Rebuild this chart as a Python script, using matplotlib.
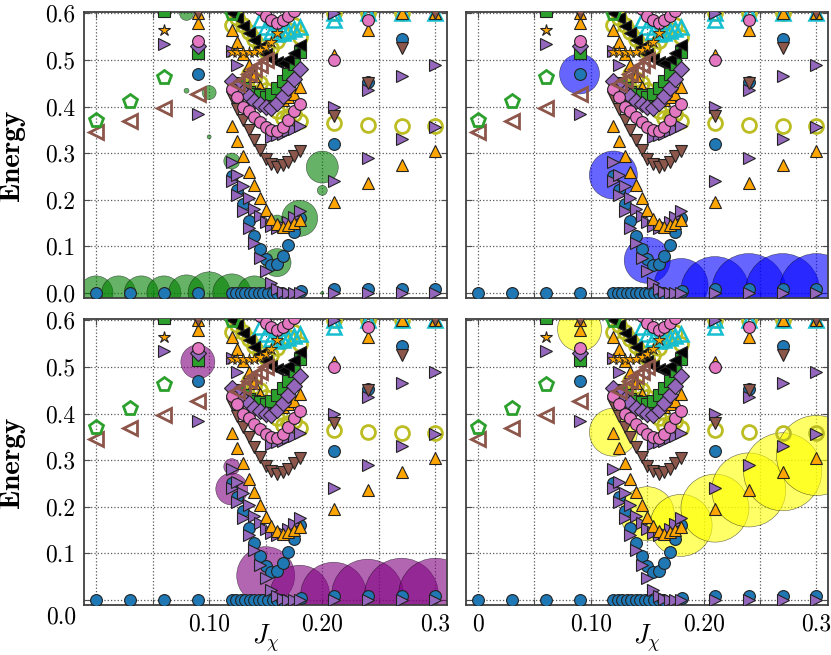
import numpy as np
import matplotlib
matplotlib.use("Agg")
import matplotlib.pyplot as plt

plt.rcParams["mathtext.fontset"] = "cm"
plt.rcParams["axes.unicode_minus"] = False

# dense J grid used by most branches
xd = [0.12, 0.125, 0.13, 0.135, 0.14, 0.145, 0.15, 0.155, 0.16, 0.165, 0.17, 0.175, 0.18]

# blue circles
blue0_x = [0.0, 0.03, 0.06, 0.09, 0.12, 0.124, 0.128, 0.132, 0.136, 0.14, 0.144, 0.148, 0.152, 0.156,
           0.16, 0.164, 0.181, 0.21, 0.24, 0.27, 0.30]
blue0_E = [0.0, 0.0, 0.0, 0.0, 0.0, 0.0, 0.0, 0.0, 0.0, 0.0, 0.0, 0.0, 0.0, 0.0,
           0.0, 0.0, 0.005, 0.009, 0.009, 0.009, 0.008]
blue1_E = [0.25, 0.22, 0.19, 0.155, 0.122, 0.095, 0.072, 0.06, 0.062, 0.079, 0.103, 0.13, 0.16]
blue2_x = [0.09, 0.21, 0.24, 0.27]
blue2_E = [0.47, 0.32, 0.452, 0.545]

# purple right triangles
pur0_x = [0.21, 0.24, 0.27, 0.30]
pur0_E = [0.0, 0.0, 0.0, 0.0]
pur1_E = [0.24, 0.21, 0.175, 0.14, 0.108, 0.075, 0.048, 0.022, 0.008, 0.002, 0.0, 0.0, 0.0]
pur2_E = [0.282, 0.254, 0.229, 0.204, 0.18, 0.165, 0.152, 0.143, 0.14, 0.143, 0.152, 0.163, 0.176]
pur3_x = [0.06, 0.09, 0.21, 0.21, 0.24, 0.24, 0.27, 0.27, 0.30, 0.30, 0.21]
pur3_E = [0.535, 0.385, 0.40, 0.24, 0.435, 0.29, 0.465, 0.33, 0.49, 0.357, 0.6]
pur4_x = [0.12, 0.125, 0.155, 0.16, 0.165, 0.17, 0.175, 0.18]
pur4_E = [0.52, 0.49, 0.335, 0.338, 0.342, 0.348, 0.352, 0.358]

# orange up triangles
org0_x = [0.09, 0.09, 0.21, 0.21, 0.24, 0.24, 0.27, 0.27, 0.30, 0.30]
org0_E = [0.58, 0.6, 0.195, 0.51, 0.235, 0.565, 0.274, 0.6, 0.305, 0.6]
org1_E = [0.358, 0.325, 0.293, 0.26, 0.231, 0.203, 0.177, 0.158, 0.148, 0.142, 0.145, 0.15, 0.157]
org2_E = [0.564, 0.538, 0.512, 0.489, 0.466, 0.443, 0.428, 0.42, 0.415, 0.415, 0.42, 0.428, 0.443]

# brown down triangles
brn0_x = [0.09, 0.21, 0.24, 0.27, 0.30]
brn0_E = [0.6, 0.38, 0.45, 0.525, 0.6]
brn1_E = [0.42, 0.395, 0.372, 0.35, 0.329, 0.307, 0.288, 0.276, 0.271, 0.275, 0.28, 0.293, 0.305]

# pink circles
pnk0_x = [0.09, 0.21, 0.24]
pnk0_E = [0.54, 0.50, 0.585]
pnk1_E = [0.437, 0.42, 0.40, 0.39, 0.378, 0.367, 0.357, 0.35, 0.348, 0.357, 0.372, 0.39, 0.406]
pnk2_x = [0.145, 0.15, 0.155, 0.16, 0.165, 0.17, 0.175]
pnk2_E = [0.61, 0.595, 0.585, 0.58, 0.585, 0.595, 0.605]

# purple diamonds
dia0_x = [0.09]
dia0_E = [0.53]
dia1_E = [0.455, 0.445, 0.432, 0.422, 0.413, 0.405, 0.398, 0.397, 0.408, 0.423, 0.44, 0.46, 0.48]

# green squares
grs0_x = [0.06, 0.09]
grs0_E = [0.605, 0.515]
grs1_x = [0.125, 0.13, 0.135, 0.14, 0.145, 0.15, 0.155, 0.16, 0.165, 0.17, 0.175, 0.18]
grs1_E = [0.45, 0.44, 0.432, 0.428, 0.424, 0.42, 0.427, 0.44, 0.455, 0.47, 0.492, 0.517]

# black left triangles
blk_E = [0.6, 0.59, 0.572, 0.557, 0.543, 0.527, 0.513, 0.502, 0.495, 0.493, 0.502, 0.516, 0.532]

# olive open circles
olv0_x = [0.21, 0.21, 0.24, 0.24, 0.27, 0.27, 0.30]
olv0_E = [0.365, 0.6, 0.36, 0.6, 0.358, 0.6, 0.358]
olv1_E = [0.575, 0.59, 0.575, 0.56, 0.545, 0.53, 0.52, 0.525, 0.54, 0.555, 0.565, 0.575, 0.55]
olv2_x = [0.135, 0.14, 0.145, 0.15, 0.155, 0.16, 0.165, 0.17, 0.175, 0.18]
olv2_E = [0.47, 0.46, 0.45, 0.435, 0.415, 0.39, 0.375, 0.38, 0.385, 0.37]

# cyan open triangles
cyn0_x = [0.21, 0.21, 0.24, 0.27, 0.30]
cyn0_E = [0.585, 0.6, 0.6, 0.6, 0.6]
cyn1_x = [0.145, 0.15, 0.155, 0.16, 0.165, 0.17, 0.175, 0.18]
cyn1_E = [0.585, 0.57, 0.56, 0.555, 0.558, 0.562, 0.566, 0.57]

# orange stars
star0_x = [0.06]
star0_E = [0.565]
star1_x = [0.12, 0.125, 0.13, 0.135, 0.14, 0.145, 0.15, 0.155, 0.16]
star1_E = [0.518, 0.518, 0.518, 0.518, 0.518, 0.522, 0.528, 0.539, 0.557]

# brown open left triangles
bho_x = [0.0, 0.03, 0.06, 0.09, 0.125, 0.13, 0.135, 0.14, 0.145, 0.15]
bho_E = [0.345, 0.368, 0.397, 0.427, 0.448, 0.458, 0.47, 0.48, 0.49, 0.50]

# green open pentagons
pen_x = [0.0, 0.03, 0.06, 0.12]
pen_E = [0.372, 0.412, 0.463, 0.6]

# weight bubbles, one set per panel (radius in pixels)
wg_x = [0.0, 0.02, 0.04, 0.06, 0.08, 0.10, 0.12, 0.14, 0.16, 0.16, 0.18, 0.20, 0.20, 0.20, 0.12, 0.10, 0.08, 0.10, 0.08]
wg_E = [0.0, 0.0, 0.0, 0.0, 0.0, 0.0, 0.0, 0.0, 0.065, 0.15, 0.16, 0.27, 0.22, 0.0, 0.283, 0.43, 0.434, 0.335, 0.6]
wg_r = [17, 17, 17, 17, 18, 21, 19, 17, 14, 8, 18, 16, 5, 1.5, 8, 7, 2.5, 2, 7]

wb_x = [0.09, 0.12, 0.15, 0.18, 0.21, 0.24, 0.27, 0.30]
wb_E = [0.47, 0.253, 0.07, 0.016, 0.005, 0.005, 0.005, 0.005]
wb_r = [20, 24, 23, 27, 34, 37, 37, 37]

wp_x = [0.09, 0.12, 0.12, 0.15, 0.18, 0.21, 0.24, 0.27, 0.30]
wp_E = [0.511, 0.286, 0.238, 0.052, 0.01, 0.01, 0.01, 0.01, 0.01]
wp_r = [17, 8, 16, 29, 30, 33, 36, 37, 37]

wy_x = [0.09, 0.12, 0.15, 0.18, 0.21, 0.24, 0.27, 0.30]
wy_E = [0.581, 0.36, 0.185, 0.16, 0.197, 0.236, 0.275, 0.31]
wy_r = [22, 24, 27, 31, 34, 37, 39, 40]

xtick_pos = [0.0, 0.05, 0.10, 0.15, 0.20, 0.25, 0.30]
ytick_pos = [0.0, 0.1, 0.2, 0.3, 0.4, 0.5, 0.6]


def filled(ax, x, y, marker, color, ms=8.5):
    ax.plot(x, y, linestyle="none", marker=marker, color=color, ms=ms,
            mec="#222222", mew=0.8, zorder=3)


def hollow(ax, x, y, marker, color, ms=10, mew=2):
    ax.plot(x, y, linestyle="none", marker=marker, mfc="none", mec=color, ms=ms,
            mew=mew, zorder=3)


def draw_base(ax):
    hollow(ax, olv0_x + xd + olv2_x, olv0_E + olv1_E + olv2_E, "o", "#bcbd22", ms=10)
    hollow(ax, cyn0_x + cyn1_x, cyn0_E + cyn1_E, "^", "#17becf", ms=10, mew=1.8)
    filled(ax, blue0_x + xd + blue2_x, blue0_E + blue1_E + blue2_E, "o", "#1f77b4")
    filled(ax, pur0_x + xd + xd + pur3_x + pur4_x, pur0_E + pur1_E + pur2_E + pur3_E + pur4_E, ">", "#9467bd", ms=9)
    filled(ax, org0_x + xd + xd, org0_E + org1_E + org2_E, "^", "orange", ms=9)
    filled(ax, brn0_x + xd, brn0_E + brn1_E, "v", "#8c564b", ms=9)
    filled(ax, grs0_x + grs1_x, grs0_E + grs1_E, "s", "#2ca02c", ms=8)
    filled(ax, dia0_x + xd, dia0_E + dia1_E, "D", "#9467bd", ms=8)
    filled(ax, pnk0_x + xd + pnk2_x, pnk0_E + pnk1_E + pnk2_E, "o", "#e377c2")
    filled(ax, xd, blk_E, "<", "black", ms=9)
    ax.plot(star1_x, star1_E, "-", color="orange", lw=1, marker="*", ms=9,
            mec="#222222", mew=0.6, zorder=3)
    filled(ax, star0_x, star0_E, "*", "orange", ms=9)
    hollow(ax, bho_x, bho_E, "<", "#8c564b", ms=10)
    hollow(ax, pen_x, pen_E, "p", "#2ca02c", ms=10)


def draw_bubbles(ax, x, y, r, color):
    s = [(1.44 * v) ** 2 for v in r]
    ax.scatter(x, y, s=s, c=color, alpha=0.6, edgecolors="k", linewidths=0.4, zorder=2)


fig = plt.figure(figsize=(8.31, 6.55), dpi=100)
W, H = 831.0, 655.0
boxes = [(84, 12, 363, 286), (466, 12, 362, 286), (84, 319, 363, 286), (466, 319, 362, 286)]
bubbles = [(wg_x, wg_E, wg_r, "green"), (wb_x, wb_E, wb_r, "blue"),
           (wp_x, wp_E, wp_r, "purple"), (wy_x, wy_E, wy_r, "yellow")]

tickfont = {"family": "cmr10", "size": 17}

for i, (l, t, w, h) in enumerate(boxes):
    ax = fig.add_axes([l / W, 1 - (t + h) / H, w / W, h / H])
    draw_bubbles(ax, *bubbles[i])
    draw_base(ax)
    ax.set_xlim(-0.0106, 0.3102)
    ax.set_ylim(-0.011, 0.603)
    ax.set_xticks(xtick_pos)
    ax.set_yticks(ytick_pos)
    ax.grid(True, linestyle=":", color="0.35", lw=0.9)
    ax.set_axisbelow(True)
    ax.tick_params(direction="in", top=True, right=True, length=4, color="0.3", pad=6)
    for sp in ax.spines.values():
        sp.set_color("0.25")
        sp.set_linewidth(1.3)

    left = i % 2 == 0
    bottom = i >= 2
    if left:
        if bottom:
            ylabs = ["", "0.1", "0.2", "0.3", "0.4", "0.5", "0.6"]
            ax.text(-0.022, -0.042, "0.0", ha="right", va="center", transform=ax.transAxes, fontdict=tickfont)
        else:
            ylabs = ["0.0", "0.1", "0.2", "0.3", "0.4", "0.5", "0.6"]
        ax.set_yticklabels(ylabs, fontdict=tickfont)
        ax.set_ylabel("Energy", family="cmb10", fontsize=21)
        ax.yaxis.set_label_coords(-0.163, 0.5)
    else:
        ax.set_yticklabels([])
    if bottom:
        first = "" if left else "0"
        ax.set_xticklabels([first, "", "0.10", "", "0.20", "", "0.3"], fontdict=tickfont)
        ax.set_xlabel(r"$J_\chi$", fontsize=19)
        ax.xaxis.set_label_coords(0.5, -0.06)
    else:
        ax.set_xticklabels([])

fig.savefig("out.png", dpi=100)
